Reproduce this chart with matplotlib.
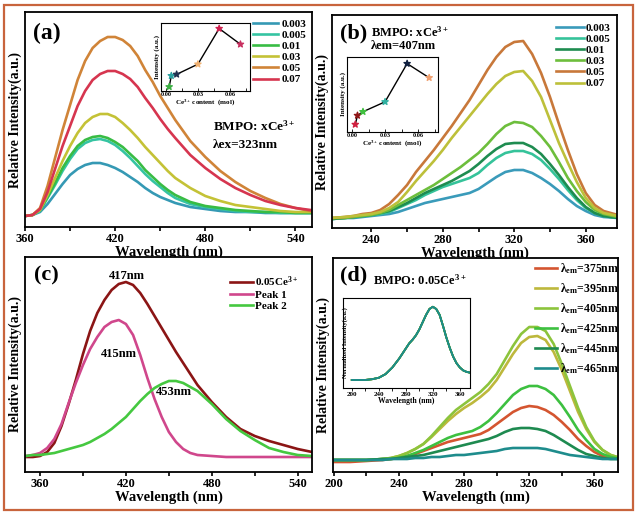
import matplotlib
matplotlib.use('Agg')
import matplotlib.pyplot as plt
from matplotlib.patches import Rectangle

plt.rcParams['font.family'] = 'Liberation Serif'
plt.rcParams['font.weight'] = 'bold'
plt.rcParams['axes.labelweight'] = 'bold'
plt.rcParams['mathtext.fontset'] = 'custom'
plt.rcParams['mathtext.rm'] = 'Liberation Serif:bold'
plt.rcParams['mathtext.it'] = 'Liberation Serif:bold'
plt.rcParams['mathtext.bf'] = 'Liberation Serif:bold'
plt.rcParams['mathtext.default'] = 'rm'
plt.rcParams['axes.linewidth'] = 1.3

# ---------------- (a) emission, lambda_ex = 323 nm ----------------
wl_a = [360, 365, 370, 375, 380, 385, 390, 395, 400, 405, 410, 415, 420, 425, 430,
        435, 440, 445, 450, 455, 460, 470, 480, 490, 500, 510, 520, 530, 540, 550]
em_003 = [0, 1, 4, 12, 22, 32, 41, 47, 51, 53, 53, 51, 48, 44, 39, 34, 28, 23, 19, 16, 13, 9, 7, 5, 4, 4, 3, 3, 3, 3]
em_005 = [0, 1, 5, 18, 31, 45, 57, 67, 73, 76, 77, 75, 71, 65, 58, 50, 42, 35, 29, 23, 18, 12, 9, 7, 5, 4, 4, 3, 3, 3]
em_01 = [0, 1, 6, 19, 33, 48, 60, 70, 76, 79, 80, 78, 74, 69, 62, 55, 46, 39, 32, 26, 21, 14, 10, 8, 6, 5, 4, 4, 3, 3]
em_03 = [0, 1, 6, 21, 38, 55, 70, 83, 93, 99, 102, 102, 99, 93, 86, 78, 69, 61, 53, 45, 38, 28, 20, 15, 11, 9, 7, 5, 4, 4]
em_05 = [0, 1, 8, 30, 58, 86, 111, 136, 155, 168, 175, 179, 179, 176, 170, 160, 146, 134, 120, 108, 96, 75, 59, 45, 34, 25, 18, 12, 8, 5]
em_07 = [0, 1, 7, 24, 47, 70, 90, 110, 125, 136, 142, 145, 145, 142, 137, 129, 118, 108, 97, 87, 78, 61, 48, 37, 28, 21, 15, 11, 8, 6]
conc = [0.003, 0.005, 0.01, 0.03, 0.05, 0.07]
conc_labels = ['0.003', '0.005', '0.01', '0.03', '0.05', '0.07']
peak_a = [53, 77, 80, 102, 179, 145]
colors_a = ['#3599b4', '#35c4a2', '#38bc44', '#c4c236', '#d08438', '#d6354f']
stars_a = ['#3cb043', '#2aa0a0', '#203050', '#f0b070', '#d02050', '#c83060']

# ---------------- (b) excitation, lambda_em = 407 nm ----------------
wl_b = [218, 225, 230, 235, 240, 245, 250, 255, 260, 265, 270, 275, 280, 285, 290, 295,
        300, 305, 310, 315, 320, 325, 330, 335, 340, 345, 350, 355, 360, 365, 370, 378]
ex_003 = [1, 2, 2, 3, 4, 5, 6, 8, 11, 14, 17, 19, 21, 23, 25, 27, 31, 37, 43, 48, 50, 50, 47, 42, 36, 29, 21, 14, 9, 5, 3, 2]
ex_005 = [1, 2, 3, 4, 5, 6, 8, 12, 16, 20, 25, 29, 33, 36, 39, 42, 47, 55, 62, 67, 69, 69, 66, 60, 51, 41, 30, 20, 12, 7, 4, 2]
ex_01 = [1, 2, 3, 4, 5, 7, 9, 13, 17, 22, 27, 31, 35, 39, 44, 49, 56, 64, 71, 76, 77, 77, 73, 66, 56, 45, 33, 22, 13, 7, 4, 2]
ex_03 = [2, 2, 3, 4, 5, 7, 10, 15, 20, 25, 30, 35, 41, 47, 53, 60, 67, 76, 86, 94, 98, 97, 93, 84, 73, 58, 42, 29, 18, 10, 6, 3]
ex_05 = [2, 3, 4, 6, 7, 10, 16, 25, 35, 48, 59, 70, 82, 94, 107, 120, 135, 150, 163, 173, 178, 179, 166, 147, 123, 96, 70, 46, 27, 15, 9, 5]
ex_07 = [2, 3, 4, 5, 6, 8, 12, 18, 28, 39, 49, 59, 70, 82, 93, 104, 115, 126, 136, 144, 148, 149, 139, 123, 100, 77, 57, 38, 22, 12, 7, 4]
peak_b = [50, 69, 77, 98, 179, 149]
colors_b = ['#3a9bba', '#35c39a', '#1e8c50', '#6dbe3c', '#c8783a', '#bdc03a']
stars_b = ['#d02040', '#901818', '#40c040', '#30b0a0', '#102040', '#f0a070']

# ---------------- (c) gaussian fit of 0.05Ce ----------------
wl_c = [350, 355, 360, 365, 370, 375, 380, 385, 390, 395, 400, 405, 410, 415, 420, 425, 430,
        435, 440, 445, 450, 455, 460, 465, 470, 480, 490, 500, 510, 520, 530, 540, 550]
fit_total = [0, 0, 1, 5, 14, 31, 53, 77, 103, 126, 144, 157, 167, 173, 175, 172, 164, 153, 141, 129, 117, 105, 94, 83, 72, 55, 40, 28, 21, 16, 12, 8, 5]
fit_p1 = [1, 2, 4, 9, 18, 33, 54, 74, 92, 108, 120, 130, 135, 137, 133, 122, 102, 79, 58, 40, 25, 15, 8, 4, 2, 1, 0, 0, 0, 0, 0, 0, 0]
fit_p2 = [1, 2, 2, 3, 4, 6, 8, 10, 12, 15, 19, 23, 28, 34, 40, 48, 56, 63, 69, 73, 76, 76, 74, 70, 66, 53, 38, 26, 17, 9, 5, 2, 1]

# ---------------- (d) excitation of 0.05Ce at several lambda_em ----------------
wl_d = [200, 210, 220, 230, 235, 240, 245, 250, 255, 260, 265, 270, 275, 280, 285, 290, 295,
        300, 305, 310, 315, 320, 325, 330, 335, 340, 345, 350, 355, 360, 365, 370, 376]
ld_375 = [-2, -2, -1, 0, 1, 2, 4, 6, 9, 12, 15, 18, 20, 22, 24, 26, 30, 36, 42, 48, 52, 54, 53, 50, 45, 38, 30, 21, 14, 8, 4, 2, 1]
ld_395 = [0, 0, 0, 1, 2, 4, 7, 11, 16, 23, 31, 39, 46, 52, 57, 63, 70, 80, 93, 106, 117, 123, 124, 120, 108, 90, 69, 48, 31, 18, 10, 5, 2]
ld_405 = [0, 0, 0, 1, 2, 4, 7, 11, 16, 24, 33, 42, 50, 56, 62, 68, 76, 86, 100, 114, 126, 133, 133, 129, 116, 96, 74, 52, 33, 19, 10, 5, 2]
ld_425 = [0, 0, 0, 1, 1, 2, 4, 7, 10, 14, 18, 22, 25, 27, 29, 33, 39, 47, 56, 65, 71, 74, 74, 71, 65, 55, 43, 30, 20, 11, 6, 3, 1]
ld_445 = [0, 0, 0, 1, 1, 2, 3, 4, 5, 7, 9, 11, 13, 15, 17, 19, 21, 24, 28, 31, 32, 32, 31, 29, 25, 20, 15, 10, 6, 4, 2, 1, 1]
ld_465 = [0, 0, 0, 0, 1, 1, 1, 2, 2, 3, 3, 4, 5, 5, 6, 7, 8, 9, 11, 12, 12, 12, 12, 11, 9, 7, 5, 4, 3, 2, 1, 1, 1]
lem_labels = ['375', '395', '405', '425', '445', '465']
colors_d = ['#d45530', '#bdb83c', '#8cc43c', '#3dc040', '#1e8a50', '#1e8c8c']
wl_dn = [200, 210, 220, 230, 240, 250, 260, 270, 280, 285, 290, 295, 300, 305, 310, 315, 320,
         325, 330, 335, 340, 345, 350, 355, 360, 365, 370, 375]
norm_d = [0.0, 0.0, 0.0, 0.01, 0.03, 0.08, 0.17, 0.29, 0.43, 0.5, 0.55, 0.61, 0.69, 0.79, 0.89, 0.97, 1.0,
          0.97, 0.89, 0.74, 0.58, 0.44, 0.32, 0.23, 0.17, 0.13, 0.11, 0.1]

W, H = 638, 515


def px_axes(l, t, r, b):
    # pixel box -> figure fraction
    return [l / W, (H - b) / H, (r - l) / W, (b - t) / H]


def style_main(ax, major, minor):
    ax.set_xticks(major)
    ax.set_xticks(minor, minor=True)
    ax.tick_params(axis='x', which='both', direction='out', length=3, width=1.2, labelsize=9, pad=1)
    ax.tick_params(axis='y', which='both', left=False, labelleft=False)
    ax.set_xlabel('Wavelength (nm)', fontsize=10.5, labelpad=0.5)
    ax.set_ylabel('Relative Intensity(a.u.)', fontsize=10, labelpad=2)


def style_inset(ax):
    ax.set_xticks([0.0, 0.03, 0.06])
    ax.set_xticklabels(['0.00', '0.03', '0.06'])
    ax.set_xticks([0.015, 0.045, 0.075], minor=True)
    ax.tick_params(axis='x', which='both', direction='in', length=2, width=0.6, labelsize=4.5, pad=1)
    ax.tick_params(axis='y', which='both', left=False, labelleft=False)
    ax.set_xlabel('Ce$^{3+}$ content  (mol)', fontsize=5, labelpad=0)
    ax.set_ylabel('Intensity (a.u.)', fontsize=5, labelpad=1)
    for s in ax.spines.values():
        s.set_linewidth(0.8)


fig = plt.figure(figsize=(6.38, 5.15), dpi=100)

# ---- (a)
ax = fig.add_axes(px_axes(25, 12, 312, 227))
for ys, c, lab in zip([em_003, em_005, em_01, em_03, em_05, em_07], colors_a, conc_labels):
    ax.plot(wl_a, ys, color=c, lw=1.9, label=lab)
ax.set_xlim(360, 551)
ax.set_ylim(-11, 204)
style_main(ax, [360, 420, 480, 540], [390, 450, 510])
ax.legend(loc='upper left', bbox_to_anchor=(0.794, 0.967), frameon=False, fontsize=8,
          handlelength=2.3, handletextpad=0.3, labelspacing=0.12, borderaxespad=0, borderpad=0)
ax.text(0.075, 0.9, '(a)', transform=ax.transAxes, fontsize=17, ha='center', va='center')
ax.text(0.655, 0.47, 'BMPO: xCe$^{3+}$', transform=ax.transAxes, fontsize=9.5, va='center')
ax.text(0.655, 0.38, 'λex=323nm', transform=ax.transAxes, fontsize=9.5, va='center')

ins = fig.add_axes(px_axes(161, 23, 250, 91))
ins.plot(conc, peak_a, color='black', lw=1)
ins.scatter(conc, peak_a, c=stars_a, marker='*', s=22, zorder=3)
ins.set_xlim(-0.0047, 0.079)
ins.set_ylim(44, 191)
style_inset(ins)

# ---- (b)
ax = fig.add_axes(px_axes(332, 15, 617, 228))
for ys, c, lab in zip([ex_003, ex_005, ex_01, ex_03, ex_05, ex_07], colors_b, conc_labels):
    ax.plot(wl_b, ys, color=c, lw=1.9, label=lab)
ax.set_xlim(218, 377.5)
ax.set_ylim(-8, 205)
style_main(ax, [240, 280, 320, 360], [260, 300, 340])
ax.legend(loc='upper left', bbox_to_anchor=(0.786, 0.962), frameon=False, fontsize=8,
          handlelength=2.5, handletextpad=0.2, labelspacing=0.12, borderaxespad=0, borderpad=0)
ax.text(0.077, 0.915, '(b)', transform=ax.transAxes, fontsize=16, ha='center', va='center')
ax.text(0.137, 0.92, 'BMPO: xCe$^{3+}$', transform=ax.transAxes, fontsize=9, va='center')
ax.text(0.137, 0.855, 'λem=407nm', transform=ax.transAxes, fontsize=9, va='center')

ins = fig.add_axes(px_axes(347, 57, 438, 132))
ins.plot(conc, peak_b, color='black', lw=1)
ins.scatter(conc, peak_b, c=stars_b, marker='*', s=22, zorder=3)
ins.set_xlim(-0.0045, 0.078)
ins.set_ylim(34, 193)
style_inset(ins)

# ---- (c)
ax = fig.add_axes(px_axes(25, 257, 312, 472))
ax.plot(wl_c, fit_total, color='#8b1515', lw=1.9, label='0.05Ce$^{3+}$')
ax.plot(wl_c, fit_p1, color='#d0478c', lw=1.9, label='Peak 1')
ax.plot(wl_c, fit_p2, color='#45c840', lw=1.9, label='Peak 2')
ax.set_xlim(349.5, 550)
ax.set_ylim(-15, 200)
style_main(ax, [360, 420, 480, 540], [390, 450, 510])
ax.legend(loc='upper left', bbox_to_anchor=(0.714, 0.921), frameon=False, fontsize=8,
          handlelength=2.1, handletextpad=0.2, labelspacing=0.12, borderaxespad=0, borderpad=0)
ax.text(0.073, 0.912, '(c)', transform=ax.transAxes, fontsize=16, ha='center', va='center')
ax.text(421, 181, '417nm', fontsize=9, ha='center', va='center')
ax.text(415, 103, '415nm', fontsize=9, ha='center', va='center')
ax.text(453.5, 65, '453nm', fontsize=9, ha='center', va='center')

# ---- (d)
ax = fig.add_axes(px_axes(333, 258, 618, 472))
for ys, c, lab in zip([ld_375, ld_395, ld_405, ld_425, ld_445, ld_465], colors_d, lem_labels):
    ax.plot(wl_d, ys, color=c, lw=1.9, label='λ$_{em}$=' + lab + 'nm')
ax.set_xlim(199.5, 374.5)
ax.set_ylim(-12, 202)
style_main(ax, [200, 240, 280, 320, 360], [220, 260, 300, 340])
ax.legend(loc='upper left', bbox_to_anchor=(0.709, 0.986), frameon=False, fontsize=8.5,
          handlelength=1.9, handletextpad=0.2, labelspacing=0.45, borderaxespad=0, borderpad=0)
ax.text(0.074, 0.92, '(d)', transform=ax.transAxes, fontsize=16, ha='center', va='center')
ax.text(0.14, 0.897, 'BMPO: 0.05Ce$^{3+}$', transform=ax.transAxes, fontsize=9, va='center')

ins = fig.add_axes(px_axes(343, 298, 470, 388))
for c in colors_d:
    ins.plot(wl_dn, norm_d, color=c, lw=1.3)
ins.set_xlim(187, 375)
ins.set_ylim(-0.11, 1.12)
ins.set_xticks([200, 240, 280, 320, 360])
ins.set_xticks([220, 260, 300, 340], minor=True)
ins.tick_params(axis='x', which='both', direction='out', length=2, width=0.6, labelsize=5, pad=1)
ins.tick_params(axis='y', which='both', left=False, labelleft=False)
ins.set_xlabel('Wavelength (nm)', fontsize=5.5, labelpad=0)
ins.set_ylabel('Normalized Intensity(a.u.)', fontsize=4.5)
ins.yaxis.set_label_coords(0.04, 0.5)
for s in ins.spines.values():
    s.set_linewidth(0.8)

# orange frame round the whole figure
fig.add_artist(Rectangle((4 / W, 5 / H), 629 / W, 505 / H, transform=fig.transFigure,
                         fill=False, ec='#c8643c', lw=1.6))

fig.savefig('out.png', dpi=100)
